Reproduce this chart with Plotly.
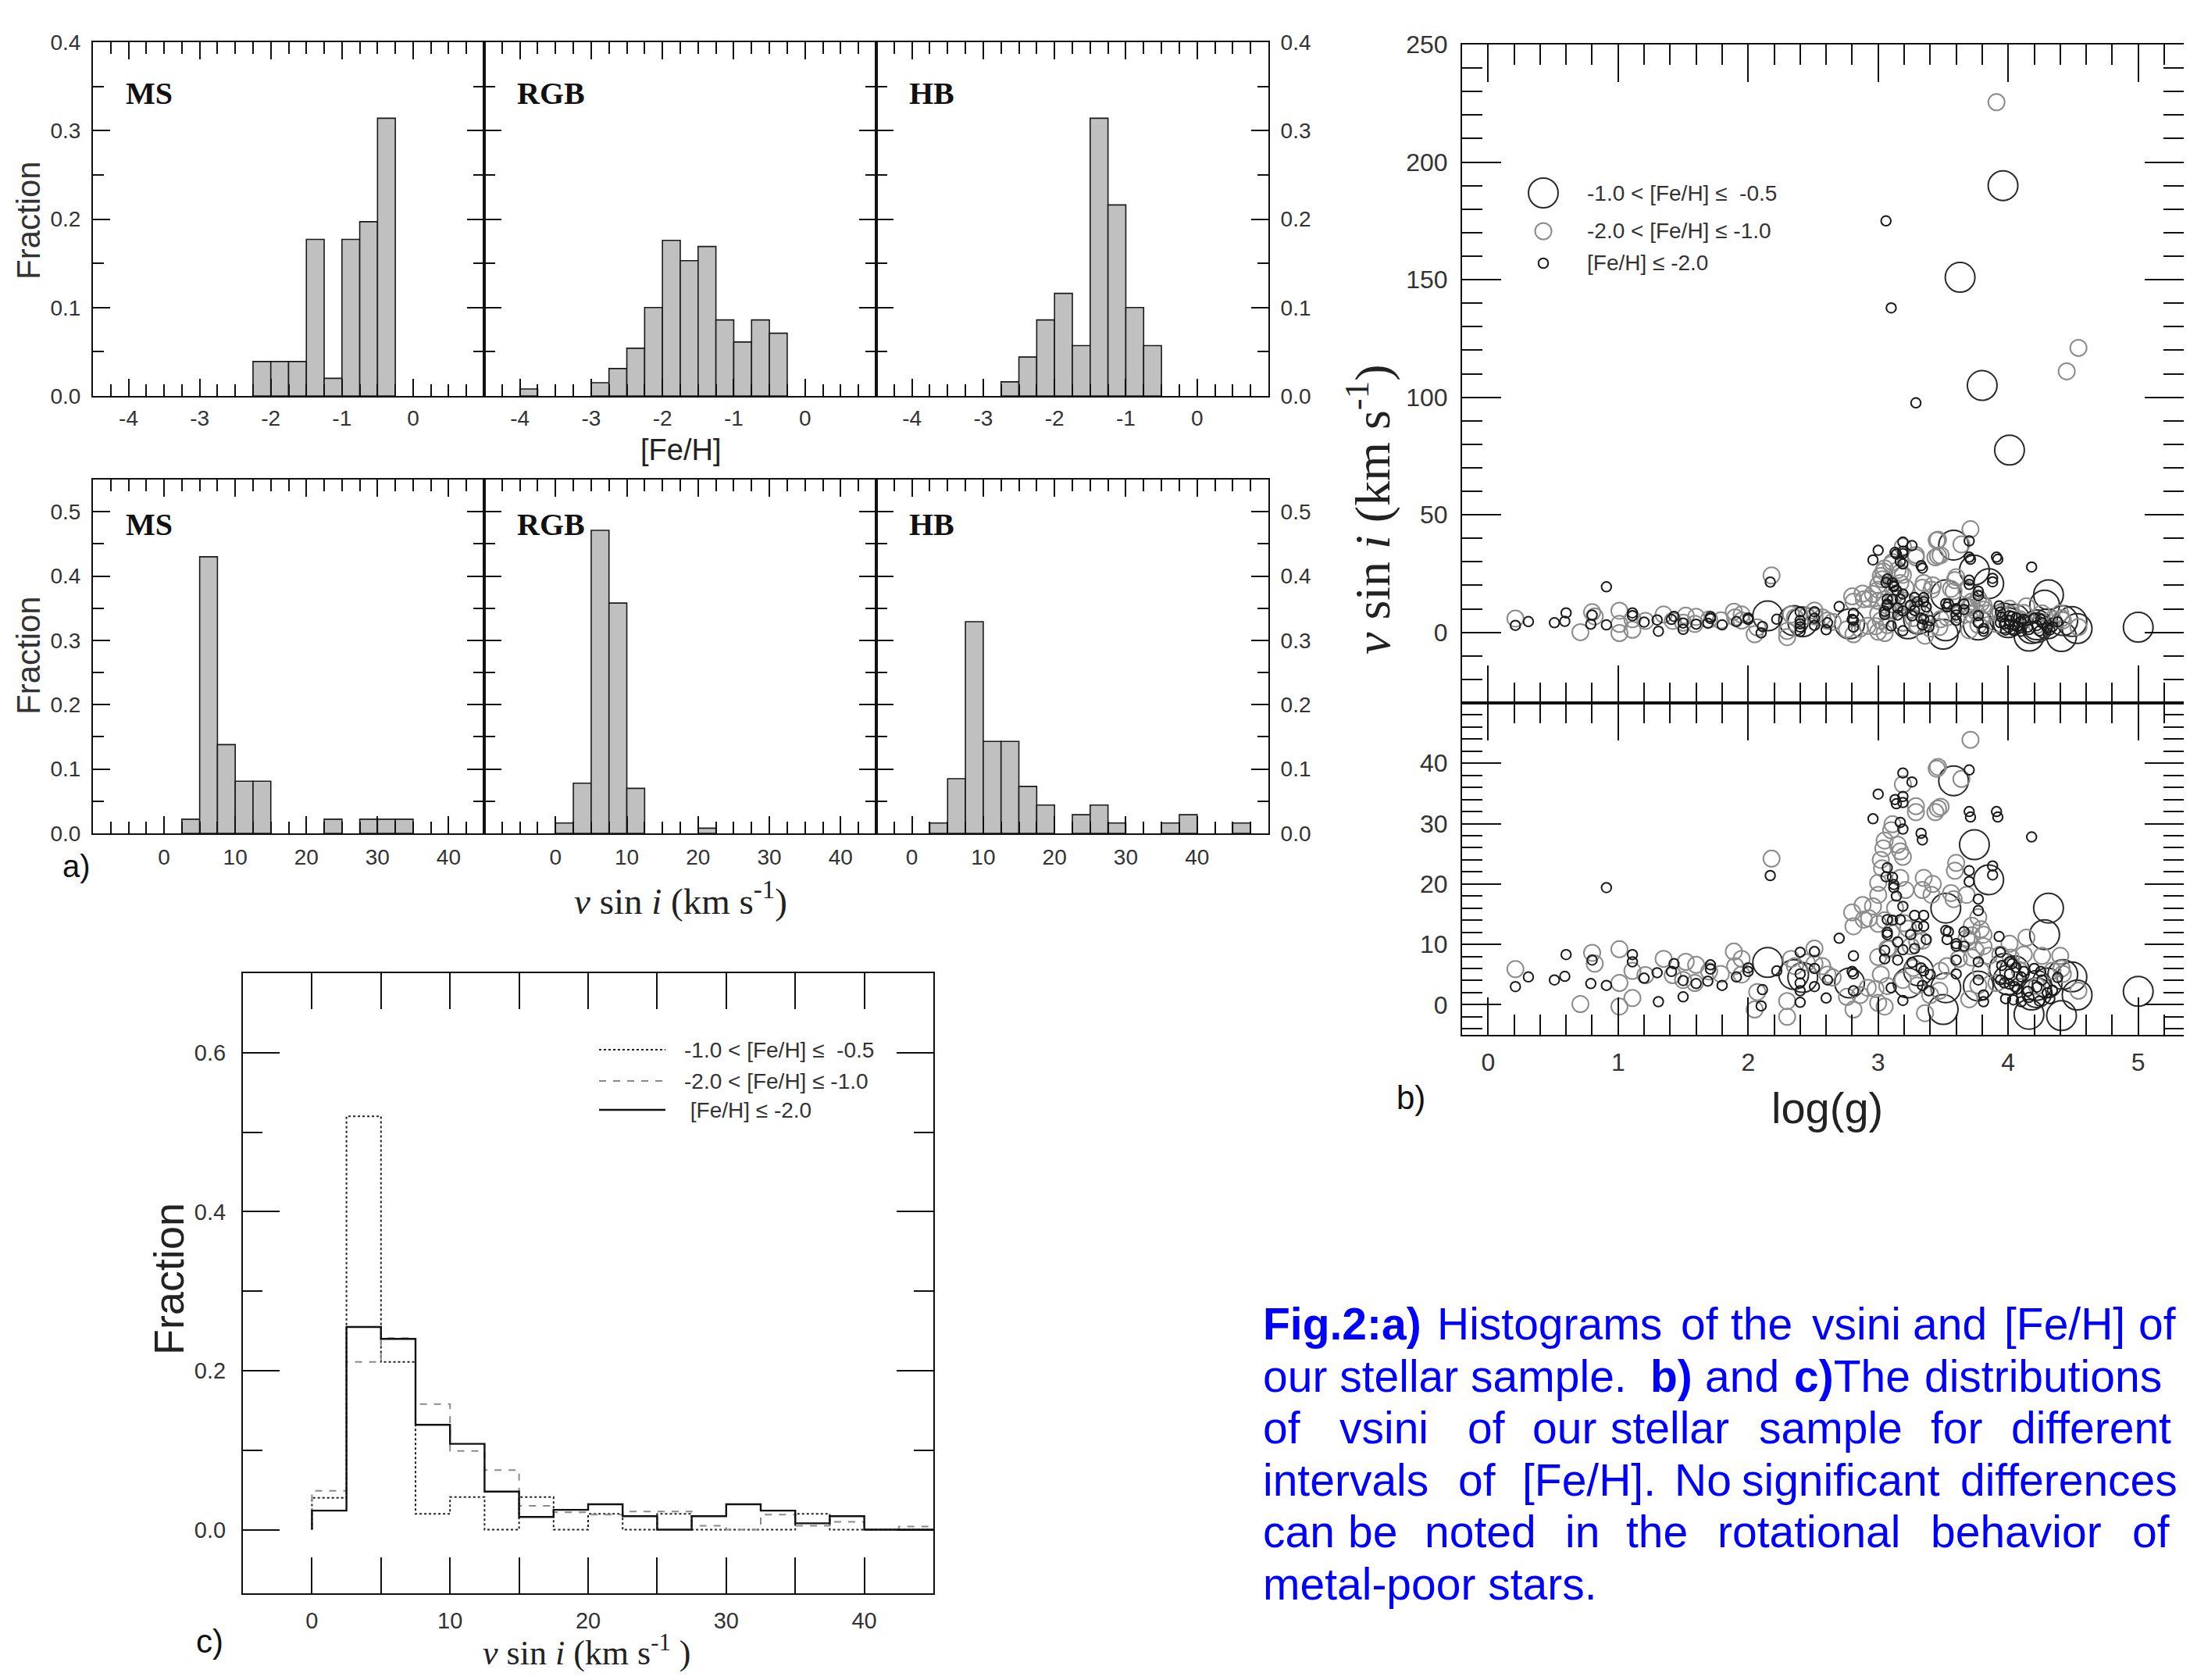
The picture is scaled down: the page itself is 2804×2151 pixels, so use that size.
import numpy as np
import plotly.graph_objects as go

# Page is 2804x2151; the html body has an 8px margin, so the figure is drawn 16px smaller
PAGE_W, PAGE_H = 2804, 2151
OFF = 8
W, H = PAGE_W - 2 * OFF, PAGE_H - 2 * OFF
SANS = "Liberation Sans, Arial, sans-serif"
SERIF = "Liberation Serif, Times New Roman, serif"

# ---------------- Panel a: [Fe/H] histograms (bin width 0.25) ----------------
feh_ms_edges = [-2.25, -2.0, -1.75, -1.5, -1.25, -1.0, -0.75, -0.5]
feh_ms_frac = [0.039, 0.039, 0.039, 0.177, 0.020, 0.177, 0.197, 0.314]
feh_rgb_edges = [-4.0, -3.0, -2.75, -2.5, -2.25, -2.0, -1.75, -1.5, -1.25, -1.0, -0.75, -0.5]
feh_rgb_frac = [0.008, 0.015, 0.031, 0.054, 0.100, 0.176, 0.153, 0.169, 0.086, 0.061, 0.086, 0.071]
feh_hb_edges = [-2.75, -2.5, -2.25, -2.0, -1.75, -1.5, -1.25, -1.0, -0.75]
feh_hb_frac = [0.016, 0.044, 0.086, 0.116, 0.057, 0.314, 0.216, 0.100, 0.057]
FEH_BIN = 0.25

# ---------------- Panel a: vsini histograms (bin width 2.5) ----------------
vs_ms_edges = [2.5, 5.0, 7.5, 10.0, 12.5, 22.5, 27.5, 30.0, 32.5]
vs_ms_frac = [0.022, 0.430, 0.138, 0.081, 0.081, 0.022, 0.022, 0.022, 0.022]
vs_rgb_edges = [0.0, 2.5, 5.0, 7.5, 10.0, 20.0]
vs_rgb_frac = [0.016, 0.078, 0.471, 0.358, 0.070, 0.008]
vs_hb_edges = [2.5, 5.0, 7.5, 10.0, 12.5, 15.0, 17.5, 22.5, 25.0, 27.5, 35.0, 37.5, 45.0]
vs_hb_frac = [0.016, 0.085, 0.329, 0.143, 0.143, 0.073, 0.044, 0.029, 0.044, 0.016, 0.016, 0.029, 0.016]
VS_BIN = 2.5

panel_names = ["MS", "RGB", "HB"]

# ---------------- Panel c: vsini distributions per [Fe/H] interval ----------------
c_edges = [0.0, 2.5, 5.0, 7.5, 10.0, 12.5, 15.0, 17.5, 20.0, 22.5, 25.0, 27.5, 30.0, 32.5, 35.0, 37.5, 40.0, 42.5]
c_hi = [0.040, 0.520, 0.211, 0.020, 0.041, 0.0, 0.041, 0.0, 0.020, 0.0, 0.020, 0.0, 0.0, 0.0, 0.020, 0.0, 0.0, 0.0]
c_mid = [0.049, 0.211, 0.241, 0.158, 0.099, 0.075, 0.030, 0.022, 0.019, 0.023, 0.023, 0.005, 0.0, 0.019, 0.005, 0.010, 0.0, 0.004]
c_low = [0.024, 0.255, 0.240, 0.132, 0.108, 0.048, 0.016, 0.025, 0.032, 0.017, 0.0, 0.017, 0.032, 0.024, 0.008, 0.017, 0.0, 0.0]
C_BIN = 2.5
feh_labels = ["-1.0 < [Fe/H] \u2264  -0.5", "-2.0 < [Fe/H] \u2264 -1.0", " [Fe/H] \u2264 -2.0"]
feh_labels_b = ["-1.0 < [Fe/H] \u2264  -0.5", "-2.0 < [Fe/H] \u2264 -1.0", "[Fe/H] \u2264 -2.0"]

# ---------------- Panel b: vsini vs log(g) ----------------
# -1.0 < [Fe/H] <= -0.5 (large dark circles)
L_logg = [3.96, 3.63, 3.80, 4.01, 2.15, 2.35, 2.42, 2.78, 3.23, 3.31, 3.52, 3.52, 3.58, 3.74, 3.77,
          3.85, 3.97, 4.05, 4.18, 4.22, 4.28, 4.30, 4.31, 4.42, 4.49, 5.00,
          3.50, 4.16, 4.41, 4.53, 4.00, 4.22]
L_vsini = [190, 151, 105, 77.5, 7.0, 5.0, 4.5, 3.6, 3.6, 5.6, 16.0, 2.8, 37.1, 26.5, 3.1,
           20.7, 6.0, 5.6, 1.6, 2.0, 11.6, 3.6, 16.0, 5.0, 4.6, 2.2,
           -0.8, -1.6, -1.8, 1.6, 4.1, 3.2]
# -2.0 < [Fe/H] <= -1.0 (grey circles)
G_logg = [3.91, 4.54, 4.45, 0.21, 0.71, 0.80, 0.82, 1.01, 1.01, 1.01, 1.11, 1.11, 1.21, 1.35, 1.42,
          1.52, 1.60, 1.79, 1.89, 1.95, 2.07, 2.18, 2.30, 2.33, 2.51, 2.57, 2.80, 2.86, 2.88, 2.96,
          3.00, 3.02, 3.05, 3.07, 3.11, 3.15, 3.19, 3.17, 3.23, 3.29, 3.35, 3.42, 3.46, 3.46, 3.40,
          3.48, 3.60, 3.56, 3.64, 3.71, 3.62, 3.70, 3.72, 3.77, 3.81, 3.79, 3.85, 3.91, 4.01, 4.14,
          4.26, 4.40, 4.42, 3.07, 2.98, 3.27, 4.09, 4.22, 4.34, 2.65, 2.45, 1.70, 3.10, 3.30, 3.05,
          3.75, 3.68, 2.92, 3.13, 3.20,
          2.81, 2.89, 2.93, 3.00, 3.04, 3.10, 3.17, 3.03, 3.00, 3.21,
          3.34, 3.41, 3.45, 3.44, 3.48, 3.29, 3.19, 3.59, 3.68, 3.58,
          3.00, 3.08, 3.25, 3.34, 3.02, 3.19, 3.30, 3.72, 3.79, 3.81,
          3.72, 3.77, 3.70, 3.53, 3.47, 3.36, 4.12, 4.02, 4.41, 4.54,
          1.90, 1.95, 1.59, 1.50, 2.05, 2.30, 2.36, 2.51, 2.61, 2.76,
          2.81, 3.00, 3.05, 3.94]
G_vsini = [225.5, 121, 111, 5.9, 0.1, 8.6, 6.8, 9.2, -0.3, 3.6, 1.1, 5.6, 4.9, 7.6, 4.9,
           7.1, 6.6, 5.1, 8.8, 7.6, 2.1, 24.2, 0.6, 7.6, 9.3, 6.4, 15.3, 1.6, 16.5, 16.3,
           20.2, 24.0, 27.2, 9.3, 29.9, 26.5, 24.5, 21.0, 12.6, 32.9, 21.0, 20.0, 32.5, 39.4, 1.6,
           5.6, 23.5, 18.5, 37.4, 43.9, 7.6, 10.6, 13.1, 14.5, 11.6, 5.6, 8.1, 3.6, 10.1, 11.1,
           8.1, 8.1, 5.1, 3.1, 2.6, 6.1, 5.6, 3.1, 5.6, 4.5, 7.0, 5.5, 12.0, 10.5, 14.0,
           9.0, 11.0, 2.8, 16.0, 13.5,
           13.0, 14.1, 14.3, 13.4, 25.9, 28.9, 25.4, 22.6, 18.2, 19.0,
           19.0, 18.2, 39.1, 31.9, 32.8, 31.9, 36.5, 22.2, 18.2, 17.5,
           7.9, 9.2, 9.7, 10.6, 5.0, 4.1, 3.2, 11.5, 12.5, 9.7,
           7.8, 3.2, 0.9, 6.4, 2.3, -1.4, 8.3, 7.8, 6.0, 2.3,
           6.4, 5.0, 3.6, 4.1, -0.8, -2.0, 6.4, 6.8, 5.0, 1.3,
           -0.8, 0.3, -0.3, 8.3]
# [Fe/H] <= -2.0 (small dark circles)
S_logg = [3.06, 3.10, 3.29, 0.21, 0.31, 0.51, 0.59, 0.60, 0.79, 0.80, 0.91, 0.91, 1.11, 1.11, 1.20,
          1.30, 1.31, 1.41, 1.43, 1.50, 1.60, 1.71, 1.71, 1.80, 1.91, 2.00, 2.00, 2.11, 2.17, 2.22,
          2.40, 2.40, 2.40, 2.51, 2.51, 2.61, 2.70, 2.81, 2.81, 2.96, 3.00, 3.07, 3.11, 3.12, 3.13,
          3.17, 3.19, 3.19, 3.26, 3.33, 3.11, 3.07, 3.05, 3.15, 3.19, 3.19, 3.25, 3.28, 3.35, 3.28,
          3.33, 3.37, 3.40, 3.35, 3.52, 3.54, 3.60, 3.66, 3.60, 3.70, 3.70, 3.70, 3.77, 3.77, 3.81,
          3.88, 3.91, 3.93, 3.97, 4.01, 4.01, 4.07, 4.10, 4.18, 4.22, 4.26, 4.34, 4.01,
          4.05, 4.12, 4.15, 4.25, 4.30, 4.38, 3.95, 4.03,
          3.14, 3.19, 3.19, 3.34, 3.71, 3.92, 3.77, 3.70, 3.88, 3.94,
          3.06, 3.12, 3.14, 3.07, 3.07, 3.17, 3.05, 3.15, 3.26, 3.34,
          3.39, 3.10, 3.19, 3.53, 3.60, 3.66, 3.30, 3.35, 3.60, 3.77,
          3.81, 3.94, 1.50, 1.69, 2.10, 2.40, 2.40, 2.51, 2.60, 2.81, 2.80,
          3.98, 4.04, 4.10, 4.16, 4.24, 4.32, 4.06, 4.20]
S_vsini = [175, 138, 97.6, 3.0, 4.6, 4.1, 4.7, 8.3, 3.5, 7.4, 19.4, 3.2, 8.3, 7.1, 4.4,
           5.3, 0.5, 5.5, 6.8, 4.0, 3.5, 6.6, 5.9, 3.2, 4.6, 5.5, 6.1, 2.5, 21.4, 5.6,
           5.1, 3.6, 8.7, 8.8, 6.0, 4.1, 11.0, 8.1, 5.1, 30.8, 34.9, 22.7, 21.1, 19.9, 34.0,
           30.2, 38.4, 34.5, 36.9, 28.4, 14.0, 11.6, 7.6, 10.4, 9.1, 16.3, 11.6, 14.8, 14.8, 9.3,
           6.1, 10.8, 5.0, 5.6, 12.3, 12.1, 10.1, 12.1, 5.1, 38.9, 32.0, 22.2, 17.5, 7.1, 1.6,
           23.0, 32.0, 11.3, 3.6, 7.1, 3.4, 2.6, 4.6, 27.8, 2.9, 4.1, 2.4, 5.1,
           3.0, 5.5, 2.2, 5.5, 2.0, 4.5, 6.5, 6.8,
           33.3, 33.5, 29.1, 27.3, 31.1, 31.1, 15.6, 20.4, 21.5, 8.7,
           21.2, 19.4, 18.0, 14.1, 12.0, 14.1, 9.0, 7.4, 7.0, 3.2,
           2.3, 2.8, 0.7, 10.8, 9.7, 9.7, 13.0, 13.0, 7.4, 4.1,
           0.5, 4.1, 1.3, 3.9, -0.2, 2.3, 0.4, 3.0, 1.1, 2.3, 5.5,
           1.0, 0.8, 0.5, 1.2, 0.6, 1.0, 6.2, 6.0]

caption_lines = [
    [(1615, "<b>Fig.2:a)</b>"), (1838, "Histograms"), (2150, "of"), (2214, "the"), (2318, "vsini"),
     (2447, "and"), (2564, "[Fe/H]"), (2736, "of")],
    [(1615, "our stellar sample."), (2111, "<b>b)</b>"), (2181, "and"), (2295, "<b>c)</b>The"),
     (2462, "distributions")],
    [(1615, "of"), (1713, "vsini"), (1877, "of"), (1960, "our"), (2060, "stellar"), (2250, "sample"),
     (2470, "for"), (2573, "different")],
    [(1615, "intervals"), (1865, "of"), (1947, "[Fe/H]."), (2142, "No"), (2228, "significant"),
     (2508, "differences")],
    [(1615, "can"), (1724, "be"), (1822, "noted"), (2002, "in"), (2080, "the"), (2197, "rotational"),
     (2470, "behavior"), (2728, "of")],
    [(1615, "metal-poor stars.")],
]


# ---------------- helpers (page pixel -> paper fraction) ----------------
def fx(p):
    return (p - OFF) / W


def fy(p):
    return 1 - (p - OFF) / H


def ids(i):
    return ("x" if i == 1 else f"x{i}"), ("y" if i == 1 else f"y{i}")


def axis(domain, rng, tickvals, ticktext, ticklen, minor_vals, minor_len, anchor, side,
         labels=True, fsize=28, standoff=10, tickw=2, linew=2, fcolor="#333"):
    d = dict(domain=[max(0.0, domain[0]), min(1.0, domain[1])], range=rng, tickmode="array",
             tickvals=tickvals, ticktext=ticktext,
             ticks="inside", ticklen=ticklen, tickwidth=tickw, tickcolor="#111",
             showline=True, linewidth=linew, linecolor="#111", mirror="ticks",
             showgrid=False, zeroline=False, anchor=anchor, side=side, automargin=False,
             showticklabels=labels, ticklabelstandoff=standoff,
             tickfont=dict(family=SANS, size=fsize, color=fcolor))
    if minor_vals:
        d["minor"] = dict(tickmode="array", tickvals=minor_vals, ticks="inside", ticklen=minor_len,
                          tickwidth=tickw, tickcolor="#111", showgrid=False)
    return d


def minor_list(start, stop, step, major_step):
    vals = []
    for v in np.arange(start, stop + 1e-9, step):
        v = round(float(v), 6)
        if abs(v / major_step - round(v / major_step)) > 1e-6:
            vals.append(v)
    return vals


def label(text, x, y, size, family=SANS, color="#222", angle=0, xanchor="center", yanchor="middle"):
    return dict(text=text, x=fx(x), y=fy(y), xref="paper", yref="paper", showarrow=False,
                xanchor=xanchor, yanchor=yanchor, textangle=angle,
                font=dict(family=family, size=size, color=color))


fig = go.Figure()
layout = dict(template="none", width=W, height=H, margin=dict(l=0, r=0, t=0, b=0, pad=0),
              paper_bgcolor="white", plot_bgcolor="white", showlegend=False, barmode="overlay")

col_px = [(119, 620), (620, 1122), (1122, 1624)]
top_row = (54, 507)
bot_row = (614, 1067)

feh_sets = [(feh_ms_edges, feh_ms_frac), (feh_rgb_edges, feh_rgb_frac), (feh_hb_edges, feh_hb_frac)]
vs_sets = [(vs_ms_edges, vs_ms_frac), (vs_rgb_edges, vs_rgb_frac), (vs_hb_edges, vs_hb_frac)]
vs_ranges = [[-10, 45], [-10, 45], [-5, 50]]

annotations = []
shapes = []

bar_style = dict(color="#c0c0c0", line=dict(color="#1a1a1a", width=1.6))

for k in range(3):
    # top row: [Fe/H]
    i = k + 1
    xa, ya = ids(i)
    edges, fr = feh_sets[k]
    fig.add_trace(go.Bar(x=[e + FEH_BIN / 2 for e in edges], y=fr, width=FEH_BIN, marker=bar_style,
                         xaxis=xa, yaxis=ya))
    layout["xaxis" if i == 1 else f"xaxis{i}"] = axis(
        [fx(col_px[k][0]), fx(col_px[k][1])], [-4.5, 1.0], [-4, -3, -2, -1, 0],
        ["-4", "-3", "-2", "-1", "0"], 22, minor_list(-4.5, 1.0, 0.25, 1), 15, ya, "bottom", standoff=2)
    layout["yaxis" if i == 1 else f"yaxis{i}"] = axis(
        [fy(top_row[1]), fy(top_row[0])], [0, 0.4], [0, 0.1, 0.2, 0.3, 0.4],
        ["0.0", "0.1", "0.2", "0.3", "0.4"], 22, [0.05, 0.15, 0.25, 0.35], 14, xa,
        "right" if k == 2 else "left", labels=(k != 1), standoff=8)
    annotations.append(dict(text=f"<b>{panel_names[k]}</b>", xref=f"{xa} domain", yref=f"{ya} domain",
                            x=0.08, y=0.855, xanchor="left", yanchor="middle", showarrow=False,
                            font=dict(family=SERIF, size=40, color="#111")))

    # bottom row: vsini
    i = k + 4
    xa, ya = ids(i)
    edges, fr = vs_sets[k]
    fig.add_trace(go.Bar(x=[e + VS_BIN / 2 for e in edges], y=fr, width=VS_BIN, marker=bar_style,
                         xaxis=xa, yaxis=ya))
    rng = vs_ranges[k]
    layout[f"xaxis{i}"] = axis(
        [fx(col_px[k][0]), fx(col_px[k][1])], rng, [0, 10, 20, 30, 40],
        ["0", "10", "20", "30", "40"], 22, minor_list(rng[0], rng[1] - 0.1, 2.5, 10), 15, ya, "bottom",
        standoff=4)
    layout[f"yaxis{i}"] = axis(
        [fy(bot_row[1]), fy(bot_row[0])], [0, 0.55], [0, 0.1, 0.2, 0.3, 0.4, 0.5],
        ["0.0", "0.1", "0.2", "0.3", "0.4", "0.5"], 22, [0.05, 0.15, 0.25, 0.35, 0.45], 14, xa,
        "right" if k == 2 else "left", labels=(k != 1), standoff=8)
    annotations.append(dict(text=f"<b>{panel_names[k]}</b>", xref=f"{xa} domain", yref=f"{ya} domain",
                            x=0.08, y=0.872, xanchor="left", yanchor="middle", showarrow=False,
                            font=dict(family=SERIF, size=40, color="#111")))

# panel a titles
for yy in (282, 839):
    annotations.append(label("Fraction", 36, yy, 42, color="#333", angle=-90))
annotations.append(label("[Fe/H]", 871, 576, 38))
annotations.append(label("<i>v</i> sin <i>i</i> (km s<sup>-1</sup>)", 872, 1150, 47, family=SERIF))
annotations.append(label("a)", 98, 1109, 40, color="#111"))

# ---------------- Panel c ----------------
xa, ya = "x7", "y7"
c_styles = [dict(color="#222", width=2, dash="dot"),
            dict(color="#8a8a8a", width=2, dash="dash"),
            dict(color="#111", width=2.4, dash="solid")]
for vals, st in zip([c_hi, c_mid, c_low], c_styles):
    xs = [c_edges[0]] + c_edges + [c_edges[-1] + C_BIN]
    ys = [0.0] + vals + [vals[-1]]
    fig.add_trace(go.Scatter(x=xs, y=ys, mode="lines", line=dict(shape="hv", **st), xaxis=xa, yaxis=ya))
layout["xaxis7"] = axis([fx(311), fx(1195)], [-5, 45], [0, 10, 20, 30, 40],
                        ["0", "10", "20", "30", "40"], 46, [5, 15, 25, 35], 46, ya, "bottom",
                        fsize=29, standoff=8)
layout["yaxis7"] = axis([fy(2040), fy(1246)], [-0.08, 0.7], [0, 0.2, 0.4, 0.6],
                        ["0.0", "0.2", "0.4", "0.6"], 47, [0.1, 0.3, 0.5], 25, xa, "left",
                        fsize=29, standoff=14)
leg_y = [1344, 1384, 1421]
for j in range(3):
    shapes.append(dict(type="line", xref="paper", yref="paper", x0=fx(767), x1=fx(852),
                       y0=fy(leg_y[j]), y1=fy(leg_y[j]), line=c_styles[j]))
    annotations.append(label(feh_labels[j], 874, leg_y[j], 28, color="#333", xanchor="left"))
annotations.append(label("Fraction", 216, 1638, 54, angle=-90))
annotations.append(label("c)", 268, 2101, 42, color="#111"))
annotations.append(label("<i>v</i> sin <i>i</i> (km s<sup>-1</sup> )", 751, 2143, 44, family=SERIF,
                         yanchor="bottom"))

# ---------------- Panel b ----------------
b_groups = [(L_logg, L_vsini, 38, "#2a2a2a"), (G_logg, G_vsini, 21, "#8c8c8c"), (S_logg, S_vsini, 12.5, "#1a1a1a")]
for xa, ya in (("x8", "y8"), ("x9", "y9")):
    for lx, ly, sz, col in b_groups:
        fig.add_trace(go.Scatter(x=lx, y=ly, mode="markers", xaxis=xa, yaxis=ya,
                                 marker=dict(symbol="circle-open", size=sz, color=col,
                                             line=dict(width=2, color=col))))
b_minor_x = minor_list(-0.2, 5.4, 0.2, 1)
layout["xaxis8"] = axis([fx(1872), 1.0], [-0.2, 5.35], [0, 1, 2, 3, 4, 5], ["0", "1", "2", "3", "4", "5"],
                        48, b_minor_x, 26, "y8", "bottom", labels=False)
layout["yaxis8"] = axis([fy(900), fy(57)], [-30, 250], [0, 50, 100, 150, 200, 250],
                        ["0", "50", "100", "150", "200", "250"], 50, minor_list(-30, 250, 10, 50), 26,
                        "x8", "left", fsize=32, standoff=10)
layout["xaxis9"] = axis([fx(1872), 1.0], [-0.2, 5.35], [0, 1, 2, 3, 4, 5], ["0", "1", "2", "3", "4", "5"],
                        48, b_minor_x, 26, "y9", "bottom", fsize=32, standoff=6)
layout["yaxis9"] = axis([fy(1325), fy(900)], [-5, 50], [0, 10, 20, 30, 40],
                        ["0", "10", "20", "30", "40"], 50, minor_list(-4, 48, 2, 10), 26,
                        "x9", "left", fsize=32, standoff=10)

b_leg_y = [247, 296, 337]
for j, (lx, ly, sz, col) in enumerate(b_groups):
    r = sz / 2
    shapes.append(dict(type="circle", xref="paper", yref="paper", xsizemode="pixel", ysizemode="pixel",
                       xanchor=fx(1976), yanchor=fy(b_leg_y[j]), x0=-r, x1=r, y0=-r, y1=r,
                       line=dict(color=col, width=2)))
    annotations.append(label(feh_labels_b[j], 2030, b_leg_y[j], 28, color="#333", xanchor="left"))
annotations.append(label("<i>v</i> sin <i>i</i> (km s<sup>-1</sup>)", 1752, 652, 64, family=SERIF, angle=-90))
annotations.append(label("log(g)", 2339, 1418, 56))
annotations.append(label("b)", 1806, 1405, 42, color="#111"))

# ---------------- Caption ----------------
for li, words in enumerate(caption_lines):
    ymid = 1695 + 66.6 * li
    for xpos, word in words:
        annotations.append(label(word, xpos, ymid, 57, color="#0000ff", xanchor="left"))

layout["annotations"] = annotations
layout["shapes"] = shapes
fig.update_layout(**layout)
fig.write_html("out.html")
